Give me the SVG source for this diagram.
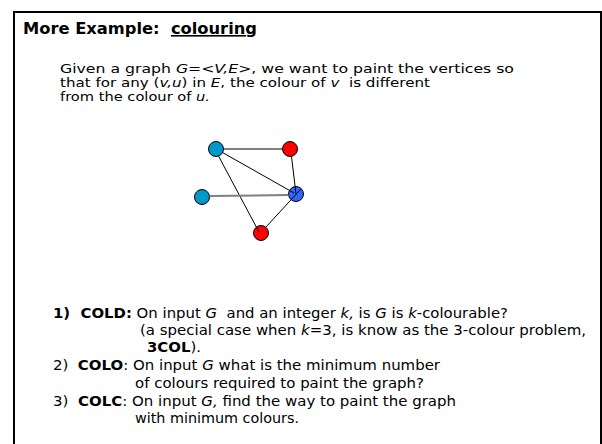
<svg xmlns="http://www.w3.org/2000/svg" width="602" height="444" viewBox="0 0 602 444" xml:space="preserve">
<style>
text{font-family:"DejaVu Sans",Verdana,sans-serif;fill:#000;white-space:pre}
.t{font-size:16px;font-weight:bold}
.b{font-size:13px}
.p{font-size:14px}
.bd{font-weight:bold}
.i{font-style:italic}
.e{stroke:#000;stroke-width:1;fill:none}
.n{stroke:#000;stroke-width:1}
</style>
<rect x="0" y="0" width="602" height="444" fill="#fff"/>
<path d="M14 446 V12 H601 V446" fill="none" stroke="#000" stroke-width="2"/>
<text class="t" x="23" y="34" textLength="234" lengthAdjust="spacingAndGlyphs">More Example:  <tspan text-decoration="underline">colouring</tspan></text>
<g id="intro">
<text x="60" y="73" class="b" textLength="454" lengthAdjust="spacingAndGlyphs">Given a graph <tspan class="i">G=&lt;V,E&gt;</tspan>, we want to paint the vertices so</text>
<text x="60" y="87" class="b" textLength="370" lengthAdjust="spacingAndGlyphs">that for any (<tspan class="i">v,u</tspan>) in <tspan class="i">E</tspan>, the colour of <tspan class="i">v</tspan>  is different</text>
<text x="60" y="101" class="b" textLength="150" lengthAdjust="spacingAndGlyphs">from the colour of <tspan class="i">u.</tspan></text>
</g>
<g id="nodes">
<g id="nA"><circle class="n" cx="216" cy="149" r="7.5" fill="#0099CC"/></g>
<g id="nB"><circle class="n" cx="290" cy="149" r="7.5" fill="#FF0000"/></g>
<g id="nC"><circle class="n" cx="202" cy="197" r="7.5" fill="#0099CC"/></g>
<g id="nD"><circle class="n" cx="296" cy="194" r="7.5" fill="#3366FF"/></g>
<g id="nE"><circle class="n" cx="261" cy="233" r="7.5" fill="#FF0000"/></g>
</g>
<g id="edges">
<line class="e" x1="223.5" y1="149" x2="282.5" y2="149"/>
<line class="e" x1="222.5" y1="152.5" x2="294" y2="193"/>
<line class="e" x1="218.5" y1="156" x2="259" y2="232"/>
<line class="e" x1="291.5" y1="156.5" x2="296" y2="194"/>
<line class="e" x1="266" y1="227" x2="301" y2="189"/>
<line x1="209.5" y1="196" x2="288.5" y2="195" stroke="#808080" stroke-width="2"/>
</g>
<g id="problems">
<text x="53" y="318" class="p" textLength="455" lengthAdjust="spacingAndGlyphs"><tspan class="bd">1)  COLD:</tspan> On input <tspan class="i">G</tspan>  and an integer <tspan class="i">k,</tspan> is <tspan class="i">G</tspan> is <tspan class="i">k</tspan>-colourable?</text>
<text x="140" y="335" class="p" textLength="446" lengthAdjust="spacingAndGlyphs">(a special case when <tspan class="i">k</tspan>=3, is know as the 3-colour problem,</text>
<text x="147" y="352" class="p" textLength="54" lengthAdjust="spacingAndGlyphs"><tspan class="bd">3COL</tspan>).</text>
<text x="53" y="370" class="p" textLength="387" lengthAdjust="spacingAndGlyphs">2)  <tspan class="bd">COLO</tspan>: On input <tspan class="i">G</tspan> what is the minimum number</text>
<text x="135" y="388" class="p" textLength="289" lengthAdjust="spacingAndGlyphs">of colours required to paint the graph?</text>
<text x="53" y="406" class="p" textLength="403" lengthAdjust="spacingAndGlyphs">3)  <tspan class="bd">COLC</tspan>: On input <tspan class="i">G,</tspan> find the way to paint the graph</text>
<text x="135" y="423" class="p" textLength="164" lengthAdjust="spacingAndGlyphs">with minimum colours.</text>
</g>
</svg>
